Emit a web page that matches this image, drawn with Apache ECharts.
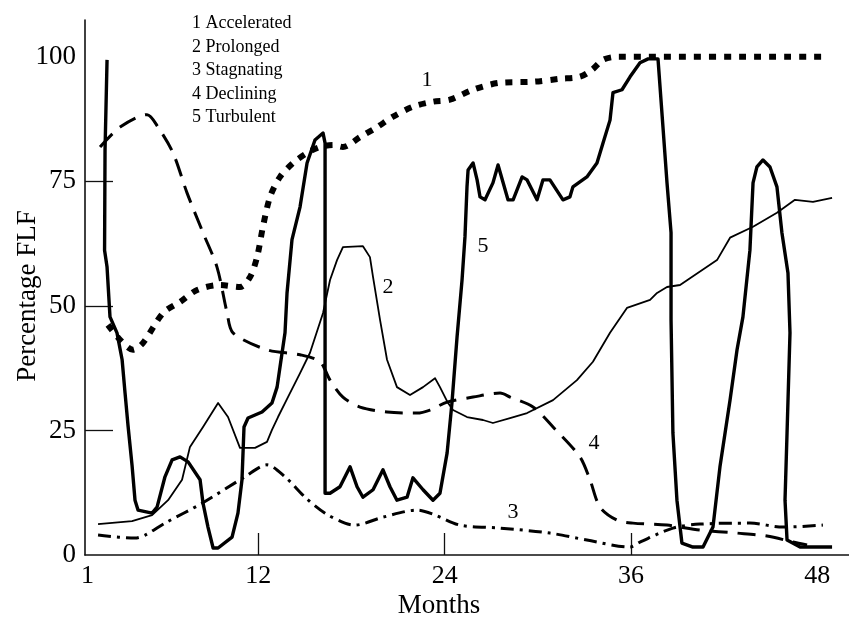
<!DOCTYPE html>
<html>
<head>
<meta charset="utf-8">
<script src="https://cdn.jsdelivr.net/npm/echarts@6/dist/echarts.min.js"></script>
<style>
html,body{margin:0;padding:0;background:#fff;}
#chart{width:849px;height:625px;}
</style>
</head>
<body>
<div id="chart"></div>
<script>
// ---- data (months, percentage FLF) ----
const xTickLabels = [1, 12, 24, 36, 48];
const xTickMarks = [12, 24, 36];
const yTickLabels = [0, 25, 50, 75, 100];
const yTickMarks = [25, 50, 75];

const legendLines = ['1 Accelerated', '2 Prolonged', '3 Stagnating', '4 Declining', '5 Turbulent'];

const accelerated = [[2.32,46.2],[3.10,43.2],[3.93,41.2],[4.58,42.6],[5.87,48.6],[6.96,50.8],[8.06,53.2],[9.54,54.2],[10.82,53.8],[11.47,55.8],[11.92,59.8],[12.30,65.9],[12.76,71.9],[13.40,75.9],[14.24,78.7],[15.14,80.7],[15.97,81.9],[16.82,82.3],[17.45,81.9],[18.55,83.9],[19.65,85.9],[20.68,88.0],[21.96,90.0],[23.25,91.0],[24.34,91.4],[25.83,93.4],[27.57,94.8],[29.69,95.0],[31.43,95.6],[32.71,96.0],[33.49,97.4],[34.20,99.4],[35.10,100],[48.62,100]];

const prolonged = [[1.68,6.2],[3.87,6.8],[5.16,8.0],[6.19,11.0],[7.09,15.1],[7.60,21.7],[8.44,25.7],[9.41,30.5],[10.05,27.7],[10.82,21.5],[11.79,21.5],[12.56,22.7],[12.88,25.1],[13.27,27.7],[13.91,31.7],[14.69,36.5],[15.33,40.6],[16.17,48.6],[16.62,55.2],[17.07,59.2],[17.45,61.8],[18.74,62.0],[19.19,59.8],[19.39,55.8],[19.84,47.2],[20.29,39.2],[20.93,33.7],[21.77,32.1],[22.61,33.7],[23.38,35.5],[23.70,33.7],[24.22,30.5],[24.54,29.1],[25.44,27.7],[26.47,27.1],[27.11,26.5],[28.21,27.5],[29.31,28.5],[30.98,31.1],[32.52,35.1],[33.55,38.8],[34.65,44.6],[35.74,49.6],[37.23,51.2],[37.68,52.6],[38.32,53.8],[39.16,54.2],[41.54,59.2],[42.38,63.7],[43.86,65.9],[45.40,68.7],[46.56,71.3],[47.72,70.9],[48.95,71.7]];

const stagnating = [[1.68,4.0],[4.06,3.4],[4.71,4.0],[5.99,6.4],[8.38,10.4],[11.14,15.7],[12.56,18.1],[13.72,15.7],[15.01,11.6],[16.30,8.4],[17.58,6.4],[18.23,6.0],[20.03,7.6],[22.22,9.0],[23.25,8.2],[24.99,6.0],[27.57,5.4],[30.78,4.4],[33.16,3.0],[35.94,1.6],[36.58,2.6],[38.70,5.4],[40.44,6.2],[43.66,6.4],[45.79,5.6],[48.36,6.0]];

const declining = [[1.81,81.9],[3.10,85.9],[4.84,88.4],[5.54,85.9],[6.51,80.7],[7.41,72.7],[8.44,64.7],[9.34,57.8],[9.99,48.6],[10.37,44.6],[12.56,41.2],[14.69,40.2],[15.97,38.8],[16.62,35.1],[17.45,31.7],[18.55,29.7],[20.29,28.7],[22.22,28.5],[23.06,29.1],[24.16,30.7],[25.83,31.7],[27.57,32.5],[28.21,31.7],[29.69,29.7],[30.98,25.7],[32.71,19.7],[33.36,15.1],[34.01,9.6],[35.10,7.0],[36.13,6.4],[38.32,6.0],[40.44,5.0],[42.83,4.4],[44.76,3.8],[46.43,2.6],[47.34,2.0]];

const turbulent = [[2.26,99.4],[2.13,81.3],[2.10,61.2],[2.26,57.8],[2.45,47.8],[2.90,44.6],[3.23,39.2],[3.42,32.5],[3.61,26.0],[3.87,18.0],[4.06,11.0],[4.26,9.0],[5.16,8.4],[5.48,9.6],[5.99,15.7],[6.45,19.1],[6.96,19.7],[7.48,18.7],[8.25,15.1],[8.44,10.4],[8.76,5.6],[9.09,1.4],[9.41,1.4],[10.31,3.6],[10.69,8.4],[10.95,15.1],[11.08,25.7],[11.34,27.5],[12.24,28.7],[12.88,30.5],[13.21,33.7],[13.40,37.8],[13.72,44.6],[13.85,52.6],[14.17,63.3],[14.69,69.9],[15.14,78.7],[15.65,83.3],[16.17,84.7],[16.30,82.7],[16.30,12.4],[16.62,12.4],[17.26,13.7],[17.91,17.7],[18.36,13.7],[18.74,11.6],[19.39,13.1],[20.03,17.1],[20.48,13.7],[20.93,11.0],[21.58,11.6],[21.96,15.5],[22.61,13.1],[23.25,11.0],[23.70,12.4],[24.16,20.5],[24.47,30.5],[24.80,43.8],[25.12,55.2],[25.31,63.9],[25.44,73.9],[25.51,77.3],[25.83,78.7],[26.09,75.3],[26.28,71.9],[26.60,71.3],[27.11,74.7],[27.44,78.3],[28.08,71.3],[28.41,71.3],[28.99,75.9],[29.31,75.3],[29.95,71.3],[30.33,75.3],[30.78,75.3],[31.62,71.3],[32.07,71.9],[32.26,73.9],[33.16,75.9],[33.81,78.7],[34.20,82.7],[34.65,87.3],[34.84,92.8],[35.42,93.4],[35.94,96.0],[36.58,98.8],[37.10,99.6],[37.74,99.6],[38.06,85.9],[38.32,74.7],[38.58,64.7],[38.58,47.2],[38.70,24.5],[38.96,11.0],[39.28,2.4],[39.99,1.6],[40.64,1.6],[41.28,5.6],[41.73,17.7],[42.38,31.1],[42.83,41.2],[43.21,47.8],[43.66,61.2],[43.86,74.7],[44.11,77.9],[44.50,79.3],[44.95,77.9],[45.40,73.9],[45.72,64.7],[46.11,56.6],[46.24,44.6],[46.05,24.5],[45.92,11.0],[46.05,3.0],[46.89,1.6],[48.95,1.6]];

// curve number labels placed in data coordinates
const labelMonths = [22.87, 20.35, 28.40, 33.62, 26.47];
const labelValues = [95.4, 53.8, 8.6, 22.5, 62.0];
const labelTexts = ['1', '2', '3', '4', '5'];

// ---- chart ----
const FONT = '"Liberation Serif", "DejaVu Serif", serif';
const chart = echarts.init(document.getElementById('chart'));

const lineSeries = (name, data, lineStyle, smooth) => ({
  name: name,
  type: 'line',
  data: data,
  showSymbol: false,
  symbol: 'none',
  smooth: smooth,
  lineStyle: Object.assign({ color: '#000', cap: 'butt', join: 'round' }, lineStyle),
  z: 3
});

chart.setOption({
  animation: false,
  backgroundColor: '#fff',
  grid: { left: 85, right: 0, top: 20, bottom: 70, containLabel: false },
  xAxis: {
    type: 'value',
    min: 0.84,
    max: 50.04,
    splitLine: { show: false },
    axisLine: { show: true, onZero: false, lineStyle: { color: '#111', width: 1.6 } },
    axisTick: { show: true, inside: true, length: 22, customValues: xTickMarks, lineStyle: { color: '#111', width: 1.3 } },
    axisLabel: { show: true, customValues: xTickLabels, margin: 8, color: '#000', fontFamily: FONT, fontSize: 26 }
  },
  yAxis: {
    type: 'value',
    min: 0,
    max: 107.4,
    splitLine: { show: false },
    axisLine: { show: true, onZero: false, lineStyle: { color: '#111', width: 1.6 } },
    axisTick: { show: true, inside: true, length: 28, customValues: yTickMarks, lineStyle: { color: '#111', width: 1.3 } },
    axisLabel: { show: true, customValues: yTickLabels, margin: 9, color: '#000', fontFamily: FONT, fontSize: 27 }
  },
  graphic: [
    {
      type: 'text',
      x: 192, y: 12,
      style: { text: legendLines.join('\n'), fill: '#000', font: '18px ' + FONT, lineHeight: 23.5 }
    },
    {
      type: 'text',
      x: 28, y: 296, rotation: Math.PI / 2,
      style: { text: 'Percentage FLF', fill: '#000', font: '27px ' + FONT, align: 'center', verticalAlign: 'middle' }
    },
    {
      type: 'text',
      x: 439, y: 606,
      style: { text: 'Months', fill: '#000', font: '27px ' + FONT, align: 'center', verticalAlign: 'middle' }
    }
  ],
  series: [
    lineSeries('Accelerated', accelerated, { width: 6, type: [7, 8] }, 0.3),
    lineSeries('Prolonged', prolonged, { width: 1.8 }, false),
    lineSeries('Stagnating', stagnating, { width: 3, type: [13, 6, 3, 6] }, 0.3),
    lineSeries('Declining', declining, { width: 3, type: [18, 10] }, 0.3),
    lineSeries('Turbulent', turbulent, { width: 3.4 }, false),
    {
      name: 'curve labels',
      type: 'scatter',
      symbolSize: 0,
      silent: true,
      itemStyle: { opacity: 1, color: '#000' },
      data: labelMonths.map((m, i) => ({ value: [m, labelValues[i]], name: labelTexts[i] })),
      label: { show: true, position: 'inside', formatter: p => p.name, color: '#000', opacity: 1, fontFamily: FONT, fontSize: 22 },
      z: 5
    }
  ]
});
</script>
</body>
</html>
